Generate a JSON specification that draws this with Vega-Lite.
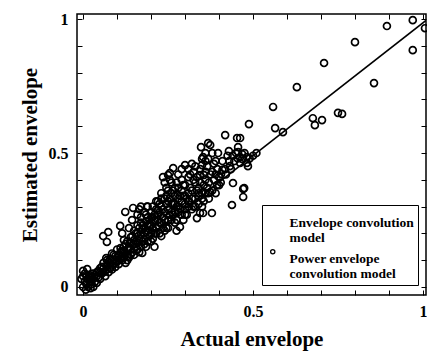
{
 "$schema": "https://vega.github.io/schema/vega-lite/v6.json",
 "width": 349, "height": 281,
 "autosize": {"type": "none"},
 "padding": {"left": 77, "top": 14, "right": 1, "bottom": 61},
 "background": "white",
 "config": {
  "font": "Liberation Serif",
  "view": {"stroke": "black", "strokeWidth": 1.5},
  "axis": {"domain": false, "grid": false, "tickColor": "black", "tickSize": -5, "tickWidth": 1,
           "labelColor": "black", "labelFont": "Liberation Serif", "labelFontSize": 16, "labelFontWeight": "bold",
           "titleColor": "black", "titleFont": "Liberation Serif", "titleFontSize": 21, "titleFontWeight": "bold"},
  "legend": {"orient": "none", "legendX": 185, "legendY": 191, "title": null,
             "strokeColor": "black", "fillColor": "white", "padding": 4,
             "labelFont": "Liberation Serif", "labelFontSize": 13.5, "labelFontWeight": "bold", "labelColor": "black",
             "labelLimit": 300, "rowPadding": 0, "labelBaseline": "top", "labelOffset": 10, "symbolSize": 18,
             "symbolStrokeWidth": 1.3, "symbolStrokeColor": "black"}
 },
 "datasets": {
  "pts": [
   {"x":0.0,"y":0.0},{"x":0.005,"y":0.02},{"x":0.01,"y":0.01},{"x":0.0,"y":0.04},{"x":0.005,"y":0.05},{"x":0.012,"y":0.03},{"x":0.015,"y":0.0},{"x":0.02,"y":0.02},{"x":0.018,"y":0.045},{"x":0.025,"y":0.01},{"x":0.03,"y":0.03},{"x":0.028,"y":0.05},{"x":0.035,"y":0.02},{"x":0.04,"y":0.04},{"x":0.012,"y":0.067},{"x":0.045,"y":0.06},{"x":0.05,"y":0.03},{"x":0.0,"y":0.06},{"x":-0.005,"y":0.03},{"x":0.008,"y":-0.01},{"x":0.022,"y":-0.005},{"x":0.03,"y":0.0},
   {"x":0.01,"y":0.04},{"x":0.02,"y":0.035},{"x":0.035,"y":0.045},{"x":0.04,"y":0.015},{"x":0.045,"y":0.035},{"x":0.05,"y":0.055},{"x":0.055,"y":0.075},{"x":0.065,"y":0.06},{"x":0.075,"y":0.095},{"x":0.08,"y":0.07},{"x":0.09,"y":0.085},{"x":0.095,"y":0.115},{"x":0.1,"y":0.095},
   {"x":0.025,"y":0.04},{"x":0.04,"y":0.055},{"x":0.05,"y":0.07},{"x":0.06,"y":0.055},{"x":0.07,"y":0.065},{"x":0.07,"y":0.1},{"x":0.08,"y":0.105},{"x":0.085,"y":0.08},{"x":0.09,"y":0.12},{"x":0.095,"y":0.09},
   {"x":0.055,"y":0.05},{"x":0.06,"y":0.07},{"x":0.065,"y":0.04},{"x":0.07,"y":0.08},{"x":0.075,"y":0.055},{"x":0.08,"y":0.09},{"x":0.085,"y":0.065},{"x":0.09,"y":0.1},{"x":0.095,"y":0.075},{"x":0.1,"y":0.11},{"x":0.06,"y":0.09},{"x":0.068,"y":0.108},{"x":0.085,"y":0.125},
   {"x":0.059,"y":0.19},{"x":0.074,"y":0.205},{"x":0.07,"y":0.168},
   {"x":0.105,"y":0.085},{"x":0.11,"y":0.13},{"x":0.115,"y":0.1},{"x":0.12,"y":0.15},{"x":0.125,"y":0.09},{"x":0.125,"y":0.12},{"x":0.13,"y":0.17},{"x":0.135,"y":0.11},{"x":0.14,"y":0.14},{"x":0.145,"y":0.19},{"x":0.15,"y":0.12},{"x":0.1,"y":0.14},{"x":0.115,"y":0.2},{"x":0.12,"y":0.175},{"x":0.135,"y":0.22},{"x":0.144,"y":0.25},{"x":0.148,"y":0.16},{"x":0.109,"y":0.228},
   {"x":0.105,"y":0.1},{"x":0.11,"y":0.145},{"x":0.115,"y":0.115},{"x":0.12,"y":0.13},{"x":0.125,"y":0.16},{"x":0.13,"y":0.1},{"x":0.135,"y":0.15},{"x":0.14,"y":0.12},{"x":0.14,"y":0.185},{"x":0.15,"y":0.14},{"x":0.15,"y":0.21},{"x":0.155,"y":0.17},{"x":0.16,"y":0.14},{"x":0.16,"y":0.23},{"x":0.165,"y":0.18},{"x":0.17,"y":0.15},{"x":0.17,"y":0.26},{"x":0.175,"y":0.23},{"x":0.18,"y":0.16},{"x":0.18,"y":0.2},{"x":0.185,"y":0.27},{"x":0.19,"y":0.17},{"x":0.19,"y":0.23},{"x":0.195,"y":0.25},{"x":0.2,"y":0.28},
   {"x":0.105,"y":0.12},{"x":0.11,"y":0.105},{"x":0.115,"y":0.135},{"x":0.12,"y":0.11},{"x":0.13,"y":0.14},{"x":0.13,"y":0.115},{"x":0.14,"y":0.165},{"x":0.145,"y":0.13},{"x":0.15,"y":0.175},{"x":0.155,"y":0.2},{"x":0.16,"y":0.165},{"x":0.165,"y":0.22},{"x":0.17,"y":0.195},{"x":0.175,"y":0.215},{"x":0.18,"y":0.18},{"x":0.185,"y":0.245},{"x":0.19,"y":0.21},{"x":0.195,"y":0.23},{"x":0.2,"y":0.2},{"x":0.2,"y":0.26},
   {"x":0.155,"y":0.15},{"x":0.16,"y":0.2},{"x":0.165,"y":0.13},{"x":0.17,"y":0.24},{"x":0.175,"y":0.17},{"x":0.18,"y":0.22},{"x":0.185,"y":0.15},{"x":0.19,"y":0.26},{"x":0.195,"y":0.19},{"x":0.2,"y":0.23},{"x":0.16,"y":0.27},{"x":0.17,"y":0.3},{"x":0.18,"y":0.28},{"x":0.19,"y":0.3},{"x":0.2,"y":0.17},{"x":0.174,"y":0.127},{"x":0.185,"y":0.205},{"x":0.124,"y":0.28},{"x":0.147,"y":0.295},{"x":0.188,"y":0.3},{"x":0.165,"y":0.29},
   {"x":0.205,"y":0.18},{"x":0.205,"y":0.3},{"x":0.21,"y":0.27},{"x":0.215,"y":0.22},{"x":0.22,"y":0.25},{"x":0.22,"y":0.32},{"x":0.225,"y":0.2},{"x":0.225,"y":0.28},{"x":0.23,"y":0.24},{"x":0.23,"y":0.33},{"x":0.235,"y":0.29},{"x":0.24,"y":0.21},{"x":0.24,"y":0.25},{"x":0.245,"y":0.34},{"x":0.25,"y":0.22},{"x":0.25,"y":0.32},{"x":0.255,"y":0.27},{"x":0.26,"y":0.31},{"x":0.26,"y":0.35},{"x":0.27,"y":0.28},{"x":0.27,"y":0.34},{"x":0.275,"y":0.25},{"x":0.28,"y":0.3},{"x":0.28,"y":0.37},{"x":0.29,"y":0.27},{"x":0.29,"y":0.32},{"x":0.295,"y":0.38},{"x":0.3,"y":0.29},{"x":0.3,"y":0.34},
   {"x":0.205,"y":0.26},{"x":0.21,"y":0.2},{"x":0.215,"y":0.29},{"x":0.22,"y":0.23},{"x":0.225,"y":0.31},{"x":0.23,"y":0.19},{"x":0.235,"y":0.26},{"x":0.24,"y":0.33},{"x":0.245,"y":0.22},{"x":0.25,"y":0.29},{"x":0.21,"y":0.15},{"x":0.22,"y":0.287},{"x":0.23,"y":0.35},{"x":0.24,"y":0.39},{"x":0.235,"y":0.41},{"x":0.25,"y":0.36},{"x":0.215,"y":0.32},
   {"x":0.205,"y":0.22},{"x":0.21,"y":0.25},{"x":0.215,"y":0.2},{"x":0.22,"y":0.27},{"x":0.225,"y":0.24},{"x":0.23,"y":0.3},{"x":0.235,"y":0.22},{"x":0.24,"y":0.28},{"x":0.245,"y":0.31},{"x":0.25,"y":0.25},{"x":0.255,"y":0.33},{"x":0.26,"y":0.28},{"x":0.265,"y":0.36},{"x":0.27,"y":0.24},{"x":0.275,"y":0.39},{"x":0.28,"y":0.33},{"x":0.285,"y":0.29},{"x":0.29,"y":0.44},{"x":0.295,"y":0.34},{"x":0.3,"y":0.27},{"x":0.245,"y":0.37},{"x":0.255,"y":0.4},{"x":0.275,"y":0.3},{"x":0.265,"y":0.27},
   {"x":0.255,"y":0.425},{"x":0.26,"y":0.25},{"x":0.265,"y":0.31},{"x":0.27,"y":0.37},{"x":0.275,"y":0.21},{"x":0.28,"y":0.28},{"x":0.285,"y":0.34},{"x":0.29,"y":0.4},{"x":0.295,"y":0.25},{"x":0.3,"y":0.31},{"x":0.265,"y":0.444},{"x":0.25,"y":0.418},{"x":0.3,"y":0.455},{"x":0.285,"y":0.224},{"x":0.27,"y":0.31},{"x":0.28,"y":0.42},{"x":0.29,"y":0.36},{"x":0.3,"y":0.38},{"x":0.26,"y":0.39},
   {"x":0.31,"y":0.32},{"x":0.32,"y":0.36},{"x":0.33,"y":0.3},{"x":0.335,"y":0.41},{"x":0.34,"y":0.35},{"x":0.35,"y":0.33},{"x":0.355,"y":0.38},{"x":0.36,"y":0.43},
   {"x":0.305,"y":0.33},{"x":0.31,"y":0.3},{"x":0.315,"y":0.37},{"x":0.32,"y":0.33},{"x":0.325,"y":0.3},{"x":0.33,"y":0.39},{"x":0.335,"y":0.36},{"x":0.34,"y":0.31},{"x":0.345,"y":0.39},{"x":0.35,"y":0.35},{"x":0.355,"y":0.32},{"x":0.36,"y":0.4},{"x":0.365,"y":0.37},{"x":0.37,"y":0.33},{"x":0.375,"y":0.42},{"x":0.38,"y":0.36},{"x":0.385,"y":0.4},{"x":0.39,"y":0.35},{"x":0.395,"y":0.44},{"x":0.4,"y":0.38},{"x":0.325,"y":0.43},{"x":0.31,"y":0.41},{"x":0.36,"y":0.5},{"x":0.38,"y":0.5},{"x":0.39,"y":0.47},
   {"x":0.305,"y":0.27},{"x":0.31,"y":0.35},{"x":0.315,"y":0.42},{"x":0.32,"y":0.29},{"x":0.325,"y":0.4},{"x":0.33,"y":0.33},{"x":0.335,"y":0.257},{"x":0.34,"y":0.37},{"x":0.345,"y":0.44},{"x":0.35,"y":0.3},{"x":0.31,"y":0.44},{"x":0.32,"y":0.46},{"x":0.344,"y":0.418},{"x":0.35,"y":0.478},{"x":0.347,"y":0.522},{"x":0.33,"y":0.45},{"x":0.353,"y":0.276},{"x":0.34,"y":0.34},{"x":0.35,"y":0.455},{"x":0.353,"y":0.485},{"x":0.344,"y":0.276},
   {"x":0.356,"y":0.418},{"x":0.36,"y":0.35},{"x":0.365,"y":0.45},{"x":0.368,"y":0.537},{"x":0.368,"y":0.478},{"x":0.37,"y":0.39},{"x":0.374,"y":0.354},{"x":0.374,"y":0.53},{"x":0.379,"y":0.276},{"x":0.38,"y":0.43},{"x":0.385,"y":0.46},{"x":0.394,"y":0.38},{"x":0.397,"y":0.5},{"x":0.4,"y":0.41},{"x":0.41,"y":0.437},{"x":0.418,"y":0.44},{"x":0.418,"y":0.567},{"x":0.36,"y":0.47},{"x":0.39,"y":0.42},{"x":0.405,"y":0.39},{"x":0.406,"y":0.422},{"x":0.368,"y":0.35},
   {"x":0.41,"y":0.47},{"x":0.42,"y":0.42},{"x":0.425,"y":0.49},{"x":0.435,"y":0.44},{"x":0.445,"y":0.47},{"x":0.45,"y":0.5},{"x":0.455,"y":0.48},{"x":0.475,"y":0.5},
   {"x":0.429,"y":0.507},{"x":0.432,"y":0.451},{"x":0.438,"y":0.306},{"x":0.441,"y":0.388},{"x":0.453,"y":0.556},{"x":0.456,"y":0.522},{"x":0.456,"y":0.504},{"x":0.462,"y":0.485},{"x":0.468,"y":0.496},{"x":0.468,"y":0.478},{"x":0.471,"y":0.366},{"x":0.471,"y":0.336},{"x":0.482,"y":0.463},{"x":0.485,"y":0.451},{"x":0.488,"y":0.608},{"x":0.44,"y":0.49},{"x":0.43,"y":0.47},{"x":0.462,"y":0.463},{"x":0.482,"y":0.485},{"x":0.474,"y":0.369},{"x":0.462,"y":0.556},
   {"x":0.49,"y":0.48},{"x":0.5,"y":0.49},{"x":0.51,"y":0.5},
   {"x":0.559,"y":0.672},{"x":0.565,"y":0.593},{"x":0.588,"y":0.578},{"x":0.629,"y":0.746},{"x":0.676,"y":0.63},{"x":0.682,"y":0.604},{"x":0.703,"y":0.623},{"x":0.75,"y":0.65},{"x":0.762,"y":0.646},{"x":0.709,"y":0.836},{"x":0.8,"y":0.914},{"x":0.856,"y":0.761},{"x":0.894,"y":0.974},{"x":0.97,"y":0.996},{"x":0.97,"y":0.884},{"x":1.006,"y":0.966}
  ],
  "line": [{"x":0.0,"y":-0.005},{"x":1.009,"y":0.995}]
 },
 "layer": [
  {
   "data": {"name": "line"},
   "mark": {"type": "line", "strokeWidth": 1.5, "clip": true},
   "encoding": {
    "x": {"field": "x", "type": "quantitative",
          "scale": {"domain": [-0.018, 1.009], "nice": false, "zero": false},
          "axis": {"orient": "top", "title": null, "labels": false, "values": [0,0.1,0.2,0.3,0.4,0.5,0.6,0.7,0.8,0.9,1]}},
    "y": {"field": "y", "type": "quantitative",
          "scale": {"domain": [-0.03, 1.019], "nice": false, "zero": false},
          "axis": {"orient": "right", "title": null, "labels": false, "values": [0,0.1,0.2,0.3,0.4,0.5,0.6,0.7,0.8,0.9,1]}},
    "color": {"datum": "Envelope convolution model", "type": "nominal",
              "scale": {"domain": ["Envelope convolution model", "Power envelope convolution model"], "range": ["black", "black"]},
              "legend": {"labelExpr": "datum.value == 'Envelope convolution model' ? ['Envelope convolution', 'model'] : ['Power envelope', 'convolution model']",
                         "encode": {"symbols": {"update": {"opacity": {"signal": "datum.value == 'Envelope convolution model' ? 0 : 1"}}}}}}
   }
  },
  {
   "data": {"name": "pts"},
   "mark": {"type": "point", "shape": "circle", "filled": false, "size": 48, "strokeWidth": 1.7, "opacity": 1},
   "encoding": {
    "x": {"field": "x", "type": "quantitative",
          "axis": {"orient": "bottom", "title": "Actual envelope", "values": [0,0.1,0.2,0.3,0.4,0.5,0.6,0.7,0.8,0.9,1],
                   "format": "~g", "labelExpr": "datum.value == 0 || datum.value == 0.5 || datum.value == 1 ? datum.label : ''",
                   "labelPadding": 13, "titlePadding": 9}},
    "y": {"field": "y", "type": "quantitative",
          "axis": {"orient": "left", "title": "Estimated envelope", "values": [0,0.1,0.2,0.3,0.4,0.5,0.6,0.7,0.8,0.9,1],
                   "format": "~g", "labelExpr": "datum.value == 0 || datum.value == 0.5 || datum.value == 1 ? datum.label : ''",
                   "labelPadding": 14, "titlePadding": 8}},
    "color": {"datum": "Power envelope convolution model", "type": "nominal"}
   }
  }
 ],
 "resolve": {"axis": {"x": "independent", "y": "independent"}}
}
